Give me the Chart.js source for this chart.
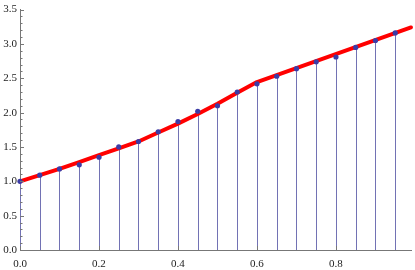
<!DOCTYPE html>
<html>
<head>
<meta charset="utf-8">
<script src="https://cdn.jsdelivr.net/npm/chart.js@4.4.0/dist/chart.umd.min.js"></script>
<style>
  html, body { margin: 0; padding: 0; background: #fff; }
  #wrap { width: 415px; height: 270px; }
</style>
</head>
<body>
<div id="wrap"><canvas id="plot"></canvas></div>
<script>
// sample points (blue dots with stems)
const sampleX = [0, 0.05, 0.1, 0.15, 0.2, 0.25, 0.3, 0.35, 0.4, 0.45, 0.5, 0.55, 0.6, 0.65, 0.7, 0.75, 0.8, 0.85, 0.9, 0.95];
const sampleY = [1.0, 1.09, 1.18, 1.24, 1.35, 1.50, 1.58, 1.72, 1.87, 2.02, 2.10, 2.30, 2.42, 2.53, 2.64, 2.74, 2.81, 2.95, 3.05, 3.16];

// red fitted curve
const curveX = [0, 0.05, 0.1, 0.15, 0.2, 0.25, 0.3, 0.35, 0.4, 0.45, 0.5, 0.55, 0.6, 0.99];
const curveY = [1.0, 1.09, 1.18, 1.28, 1.38, 1.48, 1.58, 1.71, 1.84, 1.98, 2.13, 2.29, 2.445, 3.24];

const yTickLabels = ['0.0', '0.5', '1.0', '1.5', '2.0', '2.5', '3.0', '3.5'];
const xTickLabels = ['0.0', '0.2', '0.4', '0.6', '0.8'];

const axisColor = '#777';
const stemColor = '#7272b4';

// stems from y=0 up to each sample, drawn under the datasets
const stemPlugin = {
    id: 'stems',
    beforeDatasetsDraw(chart) {
        const ctx = chart.ctx;
        const xs = chart.scales.x, ys = chart.scales.y;
        ctx.save();
        ctx.strokeStyle = stemColor;
        ctx.lineWidth = 1;
        sampleX.forEach((x, i) => {
            const px = Math.round(xs.getPixelForValue(x)) + 0.5;
            ctx.beginPath();
            ctx.moveTo(px, ys.getPixelForValue(0));
            ctx.lineTo(px, ys.getPixelForValue(sampleY[i]));
            ctx.stroke();
        });
        ctx.restore();
    }
};

// inward tick marks like the original axes
const tickPlugin = {
    id: 'inTicks',
    afterDraw(chart) {
        const ctx = chart.ctx;
        const xs = chart.scales.x, ys = chart.scales.y;
        const left = chart.chartArea.left, bottom = chart.chartArea.bottom;
        ctx.save();
        ctx.strokeStyle = axisColor;
        ctx.lineWidth = 1;
        for (let i = 0; i <= 35; i++) {
            const py = Math.round(ys.getPixelForValue(i / 10)) + 0.5;
            const len = i % 5 === 0 ? 4 : 2.5;
            ctx.beginPath();
            ctx.moveTo(left, py);
            ctx.lineTo(left + len, py);
            ctx.stroke();
        }
        for (let i = 0; i <= 4; i++) {
            const px = Math.round(xs.getPixelForValue(i / 5)) + 0.5;
            ctx.beginPath();
            ctx.moveTo(px, bottom);
            ctx.lineTo(px, bottom - 4);
            ctx.stroke();
        }
        ctx.restore();
    }
};

const tickFont = { family: '"Liberation Serif", "DejaVu Serif", serif', size: 11 };

new Chart(document.getElementById('plot'), {
    type: 'line',
    data: {
        datasets: [
            {
                label: 'samples',
                data: sampleX.map((x, i) => ({ x: x, y: sampleY[i] })),
                showLine: false,
                pointRadius: 2.6,
                pointBackgroundColor: '#3c3ca6',
                pointBorderWidth: 0
            },
            {
                label: 'curve',
                data: curveX.map((x, i) => ({ x: x, y: curveY[i] })),
                borderColor: '#ff0000',
                borderWidth: 4,
                pointRadius: 0,
                tension: 0,
                borderCapStyle: 'round',
                borderJoinStyle: 'round'
            }
        ]
    },
    options: {
        responsive: true,
        maintainAspectRatio: false,
        animation: false,
        clip: false,
        layout: { padding: { top: 8, right: 0, left: 0, bottom: 0 } },
        plugins: {
            legend: { display: false },
            tooltip: { enabled: false }
        },
        scales: {
            x: {
                type: 'linear',
                min: 0,
                max: 0.99,
                offset: false,
                grid: { display: false, drawTicks: false },
                border: { display: true, color: axisColor, width: 1 },
                ticks: {
                    stepSize: 0.2,
                    includeBounds: false,
                    maxRotation: 0,
                    padding: 8,
                    color: '#222',
                    font: tickFont,
                    callback: (v) => xTickLabels[Math.round(v * 5)]
                },
                afterFit: (s) => { s.height = 20; }
            },
            y: {
                type: 'linear',
                min: 0,
                max: 3.5,
                grid: { display: false, drawTicks: false },
                border: { display: true, color: axisColor, width: 1 },
                ticks: {
                    stepSize: 0.5,
                    padding: 3,
                    color: '#222',
                    font: tickFont,
                    callback: (v) => yTickLabels[Math.round(v * 2)]
                },
                afterFit: (s) => { s.width = 20; }
            }
        }
    },
    plugins: [stemPlugin, tickPlugin]
});
</script>
</body>
</html>
